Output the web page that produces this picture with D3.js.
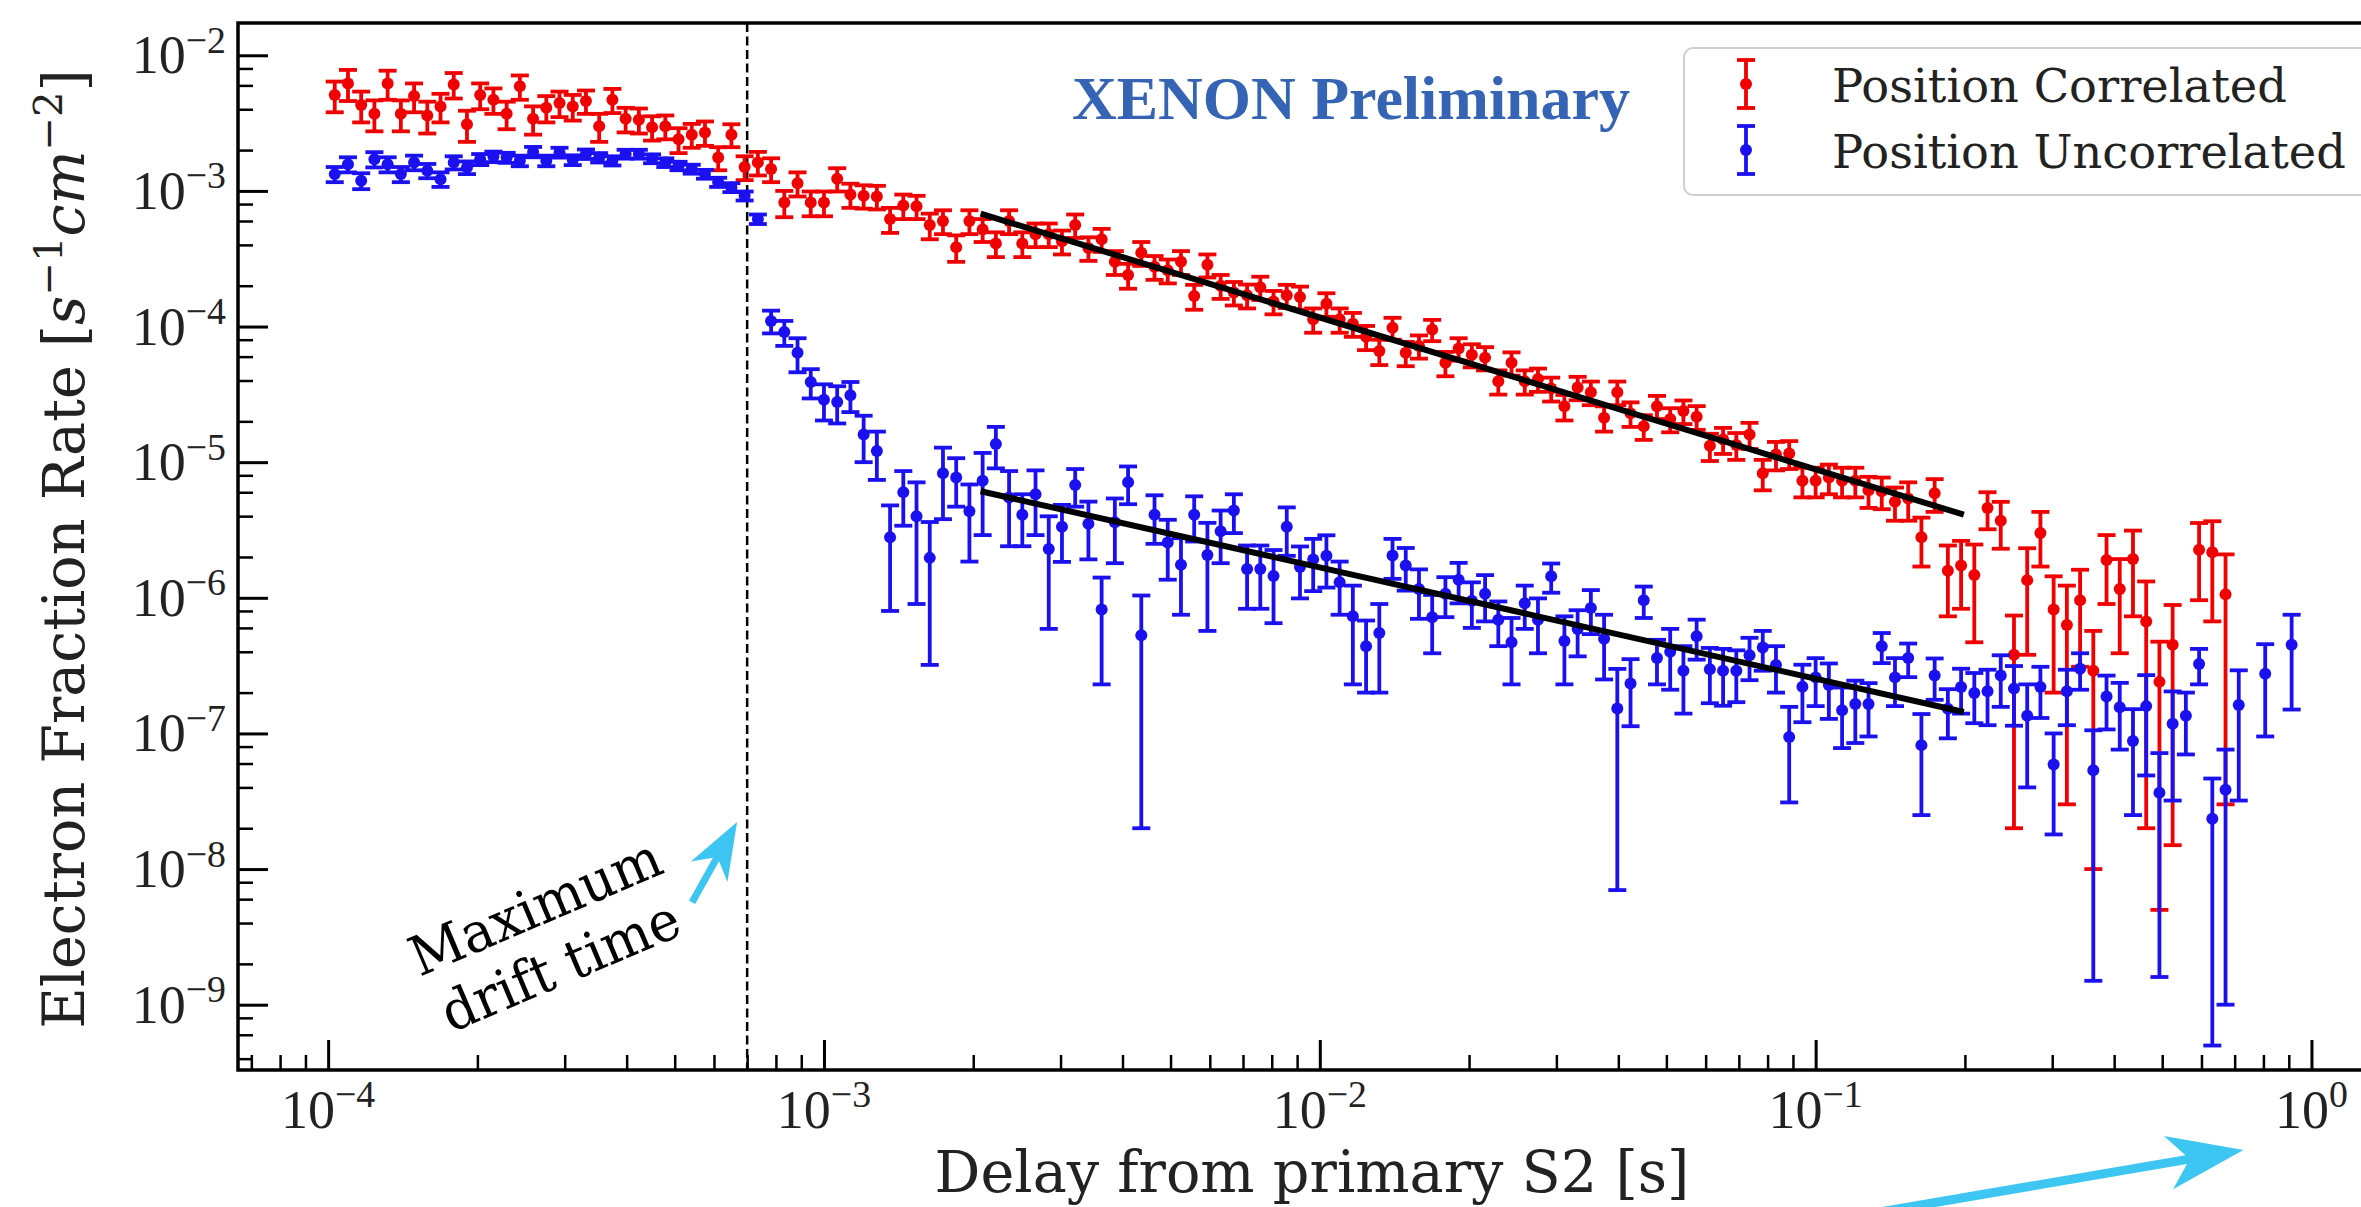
<!DOCTYPE html>
<html>
<head>
<meta charset="utf-8">
<script src="https://cdn.jsdelivr.net/npm/d3@7"></script>
<style>
html, body { margin: 0; padding: 0; background: #fff; }
svg { display: block; }
</style>
</head>
<body>
<div id="chart"></div>
<script>
'use strict';

// delay bins: log spaced from 1e-4 s to 1 s, points sit at bin centres
const BIN_LOG_START = -4;
const BIN_LOG_END = 0;
const BIN_COUNT = 150;

// Position Correlated (red), rate per bin and its 1-sigma error
const corrRate = [
  5.1e-3, 6.2e-3, 4.3e-3, 3.7e-3, 6.2e-3, 3.7e-3, 5.0e-3, 3.6e-3, 4.2e-3, 6.1e-3,
  3.1e-3, 5.1e-3, 4.7e-3, 3.7e-3, 5.9e-3, 3.4e-3, 4.1e-3, 4.45e-3, 4.2e-3, 4.6e-3,
  3.0e-3, 4.7e-3, 3.4e-3, 3.35e-3, 2.95e-3, 3.0e-3, 2.4e-3, 2.6e-3, 2.7e-3, 1.76e-3,
  2.6e-3, 1.5e-3, 1.62e-3, 1.45e-3, 8.2e-4, 1.14e-3, 8.2e-4, 8.2e-4, 1.23e-3, 9.4e-4,
  9.2e-4, 9.1e-4, 6.2e-4, 7.8e-4, 7.7e-4, 5.6e-4, 6.0e-4, 3.85e-4, 6.0e-4, 5.2e-4,
  4.1e-4, 6.0e-4, 4.1e-4, 4.8e-4, 4.8e-4, 4.25e-4, 5.6e-4, 3.8e-4, 4.4e-4, 3.0e-4,
  2.4e-4, 3.5e-4, 2.76e-4, 2.6e-4, 3.0e-4, 1.68e-4, 2.85e-4, 2.0e-4, 1.78e-4, 1.7e-4,
  1.95e-4, 1.53e-4, 1.7e-4, 1.65e-4, 1.13e-4, 1.47e-4, 1.13e-4, 1.05e-4, 8.4e-5, 6.6e-5,
  9.8e-5, 6.4e-5, 7.2e-5, 9.5e-5, 5.4e-5, 6.9e-5, 6.2e-5, 5.9e-5, 3.95e-5, 5.4e-5,
  3.95e-5, 4.1e-5, 3.5e-5, 2.58e-5, 3.56e-5, 3.28e-5, 2.13e-5, 3.28e-5, 2.29e-5, 1.84e-5,
  2.58e-5, 2.08e-5, 2.38e-5, 2.16e-5, 1.32e-5, 1.47e-5, 1.34e-5, 1.6e-5, 8.3e-6, 1.14e-5,
  1.16e-5, 7.3e-6, 7.3e-6, 7.7e-6, 7.3e-6, 7.3e-6, 6.2e-6, 6.1e-6, 5.1e-6, 5.4e-6,
  2.8e-6, 5.9e-6, 1.58e-6, 1.73e-6, 1.47e-6, 4.6e-6, 3.7e-6, 3.8e-7, 1.35e-6, 3.0e-6,
  8.2e-7, 6.3e-7, 9.6e-7, 2.9e-7, 1.9e-6, 1.16e-6, 1.93e-6, 6.7e-7, 2.4e-7, 4.5e-7,
  null, 2.26e-6, 2.17e-6, 1.06e-6, null, null, null, null, null, null
];
const corrErr = [
  1.3e-3, 1.6e-3, 1.1e-3, 9.5e-4, 1.5e-3, 9.5e-4, 1.2e-3, 9.5e-4, 1.0e-3, 1.3e-3,
  8.0e-4, 1.1e-3, 1.0e-3, 8.5e-4, 1.2e-3, 8.0e-4, 9.0e-4, 9.5e-4, 9.0e-4, 9.0e-4,
  7.0e-4, 9.5e-4, 7.0e-4, 7.0e-4, 6.0e-4, 6.0e-4, 5.0e-4, 5.2e-4, 5.5e-4, 3.4e-4,
  5.0e-4, 3.0e-4, 3.2e-4, 2.9e-4, 1.8e-4, 2.3e-4, 1.7e-4, 1.7e-4, 2.4e-4, 1.9e-4,
  1.8e-4, 1.8e-4, 1.3e-4, 1.6e-4, 1.5e-4, 1.2e-4, 1.2e-4, 8.5e-5, 1.2e-4, 1.0e-4,
  8.5e-5, 1.2e-4, 8.5e-5, 9.5e-5, 9.5e-5, 8.5e-5, 1.1e-4, 7.5e-5, 8.5e-5, 6.0e-5,
  5.0e-5, 7.0e-5, 5.5e-5, 5.2e-5, 6.0e-5, 3.5e-5, 5.5e-5, 4.0e-5, 3.5e-5, 3.4e-5,
  3.8e-5, 3.0e-5, 3.3e-5, 3.2e-5, 2.3e-5, 2.9e-5, 2.3e-5, 2.1e-5, 1.7e-5, 1.4e-5,
  1.8e-5, 1.3e-5, 1.4e-5, 1.7e-5, 1.1e-5, 1.3e-5, 1.2e-5, 1.15e-5, 8.0e-6, 1.05e-5,
  8.0e-6, 8.0e-6, 7.0e-6, 5.5e-6, 7.0e-6, 6.5e-6, 4.5e-6, 6.5e-6, 4.7e-6, 3.8e-6,
  5.0e-6, 4.2e-6, 4.7e-6, 4.3e-6, 3.0e-6, 3.2e-6, 3.0e-6, 3.5e-6, 2.1e-6, 2.7e-6,
  2.7e-6, 1.8e-6, 1.8e-6, 1.9e-6, 1.8e-6, 1.8e-6, 1.6e-6, 1.6e-6, 1.4e-6, 1.7e-6,
  1.1e-6, 1.6e-6, 8.5e-7, 9.0e-7, 1.0e-6, 1.4e-6, 1.4e-6, 3.6e-7, 9.7e-7, 1.3e-6,
  6.2e-7, 6.0e-7, 6.5e-7, 2.8e-7, 1.0e-6, 7.7e-7, 1.2e-6, 6.5e-7, 2.35e-7, 4.35e-7,
  null, 1.3e-6, 1.5e-6, 1.03e-6, null, null, null, null, null, null
];

// Position Uncorrelated (blue)
const uncorrRate = [
  1.33e-3, 1.57e-3, 1.19e-3, 1.71e-3, 1.57e-3, 1.33e-3, 1.62e-3, 1.41e-3, 1.22e-3, 1.62e-3,
  1.49e-3, 1.71e-3, 1.79e-3, 1.76e-3, 1.67e-3, 1.94e-3, 1.67e-3, 1.92e-3, 1.69e-3, 1.87e-3,
  1.76e-3, 1.67e-3, 1.87e-3, 1.87e-3, 1.73e-3, 1.62e-3, 1.53e-3, 1.45e-3, 1.33e-3, 1.16e-3,
  1.06e-3, 9.2e-4, 6.2e-4, 1.1e-4, 9.1e-5, 6.4e-5, 3.9e-5, 2.89e-5, 2.78e-5, 3.12e-5,
  1.6e-5, 1.21e-5, 2.8e-6, 6.0e-6, 4.0e-6, 1.97e-6, 8.3e-6, 7.7e-6, 4.35e-6, 7.3e-6,
  1.36e-5, 5.5e-6, 4.1e-6, 5.8e-6, 2.29e-6, 3.34e-6, 6.8e-6, 3.52e-6, 8.2e-7, 3.6e-6,
  7.1e-6, 5.3e-7, 4.1e-6, 2.56e-6, 1.75e-6, 4.1e-6, 2.07e-6, 3.1e-6, 4.4e-6, 1.63e-6,
  1.63e-6, 1.45e-6, 3.34e-6, 1.69e-6, 1.92e-6, 2.04e-6, 1.3e-6, 7.3e-7, 4.4e-7, 5.5e-7,
  2.05e-6, 1.73e-6, 1.16e-6, 7.2e-7, 1.07e-6, 1.36e-6, 9.5e-7, 1.07e-6, 6.9e-7, 4.7e-7,
  9.1e-7, 6.9e-7, 1.44e-6, 4.8e-7, 5.9e-7, 8.4e-7, 5.0e-7, 1.53e-7, 2.33e-7, 9.6e-7,
  3.6e-7, 4.0e-7, 2.9e-7, 5.2e-7, 2.97e-7, 2.9e-7, 2.9e-7, 3.77e-7, 4.3e-7, 3.2e-7,
  9.4e-8, 2.21e-7, 2.59e-7, 2.28e-7, 1.48e-7, 1.65e-7, 1.65e-7, 4.4e-7, 2.59e-7, 3.6e-7,
  8.2e-8, 2.67e-7, 1.52e-7, 2.2e-7, 1.99e-7, 2.05e-7, 2.67e-7, 2.14e-7, 1.35e-7, 2.2e-7,
  5.9e-8, 2.05e-7, 3.0e-7, 5.35e-8, 1.87e-7, 1.56e-7, 8.8e-8, 1.59e-7, 3.66e-8, 1.18e-7,
  1.35e-7, 3.25e-7, 2.35e-8, 3.85e-8, 1.62e-7, null, 2.75e-7, null, 4.5e-7, null
];
const uncorrErr = [
  1.7e-4, 2.0e-4, 1.6e-4, 2.2e-4, 2.0e-4, 1.7e-4, 2.0e-4, 1.7e-4, 1.5e-4, 1.8e-4,
  1.6e-4, 1.6e-4, 1.6e-4, 1.5e-4, 1.5e-4, 1.7e-4, 1.5e-4, 1.6e-4, 1.4e-4, 1.5e-4,
  1.4e-4, 1.3e-4, 1.4e-4, 1.4e-4, 1.3e-4, 1.2e-4, 1.1e-4, 1.1e-4, 1.0e-4, 9.0e-5,
  8.0e-5, 7.0e-5, 5.0e-5, 2.1e-5, 1.9e-5, 1.8e-5, 9.5e-6, 8.6e-6, 8.5e-6, 7.8e-6,
  6.0e-6, 4.7e-6, 2.0e-6, 2.6e-6, 3.1e-6, 1.65e-6, 4.5e-6, 3.0e-6, 2.5e-6, 4.4e-6,
  4.6e-6, 3.1e-6, 1.7e-6, 2.9e-6, 1.7e-6, 1.5e-6, 2.1e-6, 1.6e-6, 5.9e-7, 1.8e-6,
  2.2e-6, 5.1e-7, 1.6e-6, 1.2e-6, 1.0e-6, 1.5e-6, 1.5e-6, 1.3e-6, 1.4e-6, 8.0e-7,
  8.0e-7, 8.0e-7, 1.3e-6, 7.0e-7, 8.0e-7, 8.5e-7, 5.5e-7, 5.0e-7, 2.4e-7, 3.5e-7,
  6.7e-7, 6.0e-7, 4.6e-7, 3.3e-7, 3.5e-7, 4.5e-7, 3.5e-7, 4.0e-7, 2.5e-7, 2.4e-7,
  3.2e-7, 3.0e-7, 3.5e-7, 2.5e-7, 2.2e-7, 3.0e-7, 2.5e-7, 1.46e-7, 1.2e-7, 2.5e-7,
  1.3e-7, 1.9e-7, 1.5e-7, 1.7e-7, 1.3e-7, 1.3e-7, 1.2e-7, 1.3e-7, 1.4e-7, 1.2e-7,
  6.3e-8, 1.0e-7, 1.0e-7, 1.0e-7, 7.0e-8, 8.0e-8, 7.0e-8, 1.1e-7, 1.0e-7, 1.0e-7,
  5.7e-8, 9.0e-8, 6.0e-8, 8.0e-8, 8.0e-8, 9.0e-8, 1.1e-7, 1.0e-7, 9.5e-8, 9.0e-8,
  4.1e-8, 9.0e-8, 9.0e-8, 5.2e-8, 8.0e-8, 8.0e-8, 6.3e-8, 1.1e-7, 3.5e-8, 8.6e-8,
  6.5e-8, 9.5e-8, 2.3e-8, 3.75e-8, 1.3e-7, null, 1.8e-7, null, 3.0e-7, null
];

// power-law fits, drawn between their two end points [delay, rate]
const corrFit = [[2.07e-3, 6.8e-4], [0.199, 4.1e-6]];
const uncorrFit = [[2.07e-3, 6.1e-6], [0.199, 1.44e-7]];

const MAX_DRIFT = 7.0e-4;

// annotation arrows [tail, tip] in data coordinates
const driftArrow = [[5.42e-4, 5.7e-9], [6.68e-4, 2.22e-8]];
const rangeArrow = [[0.123, 2.8e-11], [0.729, 8.5e-11]];
const driftTextAt = [2.71e-4, 3.9e-9];

const X_TICK_EXPS = [-4, -3, -2, -1, 0];
const Y_TICK_EXPS = [-9, -8, -7, -6, -5, -4, -3, -2];
const X_MINOR_SUBS = [2, 3, 4, 5, 6, 7, 8, 9];
const Y_MINOR_SUBS = [2, 4, 6, 8];

const SERIES = [
  { label: 'Position Correlated', rates: corrRate, errs: corrErr, color: '#f00000' },
  { label: 'Position Uncorrelated', rates: uncorrRate, errs: uncorrErr, color: '#1a10f0' }
];

const W = 2361, H = 1207;
const PLOT = { left: 238, top: 23, right: 2390, bottom: 1070 };
const X_LIM = [6.58e-5, 1.44];
const Y_LIM = [3.3e-10, 1.73e-2];

const SERIF = "'DejaVu Serif', serif";
const TICK_FONT = "'Liberation Serif', serif";

const x = d3.scaleLog().domain(X_LIM).range([PLOT.left, PLOT.right]);
const y = d3.scaleLog().domain(Y_LIM).range([PLOT.bottom, PLOT.top]);

const binCenters = d3.range(BIN_COUNT)
  .map(i => Math.pow(10, BIN_LOG_START + (i + 0.5) * (BIN_LOG_END - BIN_LOG_START) / BIN_COUNT));

const svg = d3.select('#chart')
  .append('svg')
  .attr('width', W)
  .attr('height', H);

svg.append('rect').attr('width', W).attr('height', H).attr('fill', '#fff');

svg.append('clipPath')
  .attr('id', 'plot-clip')
  .append('rect')
  .attr('x', PLOT.left)
  .attr('y', PLOT.top)
  .attr('width', PLOT.right - PLOT.left)
  .attr('height', PLOT.bottom - PLOT.top);

const plot = svg.append('g').attr('clip-path', 'url(#plot-clip)');

// maximum drift time marker
plot.append('line')
  .attr('x1', x(MAX_DRIFT))
  .attr('x2', x(MAX_DRIFT))
  .attr('y1', PLOT.top)
  .attr('y2', PLOT.bottom)
  .attr('stroke', '#000')
  .attr('stroke-width', 2.5)
  .attr('stroke-dasharray', '9,4.5');

const CAP = 9;
const BAR_W = 3.8;
const drawErrorbars = (layer, s) => {
  const pts = s.rates
    .map((v, i) => ({ t: binCenters[i], v: v, e: s.errs[i] }))
    .filter(d => d.v != null);
  const lo = d => (d.v - d.e > 0 ? d.v - d.e : Y_LIM[0] / 10);
  const g = layer.append('g').attr('class', 'series');

  g.selectAll('line.bar')
    .data(pts)
    .join('line')
    .attr('class', 'bar')
    .attr('x1', d => x(d.t))
    .attr('x2', d => x(d.t))
    .attr('y1', d => y(d.v + d.e))
    .attr('y2', d => y(lo(d)))
    .attr('stroke', s.color)
    .attr('stroke-width', BAR_W);

  g.selectAll('line.cap-hi')
    .data(pts)
    .join('line')
    .attr('class', 'cap-hi')
    .attr('x1', d => x(d.t) - CAP)
    .attr('x2', d => x(d.t) + CAP)
    .attr('y1', d => y(d.v + d.e))
    .attr('y2', d => y(d.v + d.e))
    .attr('stroke', s.color)
    .attr('stroke-width', BAR_W);

  g.selectAll('line.cap-lo')
    .data(pts.filter(d => d.v - d.e > 0))
    .join('line')
    .attr('class', 'cap-lo')
    .attr('x1', d => x(d.t) - CAP)
    .attr('x2', d => x(d.t) + CAP)
    .attr('y1', d => y(d.v - d.e))
    .attr('y2', d => y(d.v - d.e))
    .attr('stroke', s.color)
    .attr('stroke-width', BAR_W);

  g.selectAll('circle')
    .data(pts)
    .join('circle')
    .attr('cx', d => x(d.t))
    .attr('cy', d => y(d.v))
    .attr('r', 6)
    .attr('fill', s.color);
};

SERIES.forEach(s => drawErrorbars(plot, s));

const fitLine = d3.line().x(d => x(d[0])).y(d => y(d[1]));
[corrFit, uncorrFit].forEach(f => {
  plot.append('path')
    .attr('d', fitLine(f))
    .attr('fill', 'none')
    .attr('stroke', '#000')
    .attr('stroke-width', 6);
});

// ticks (pointing inward)
const xMajor = X_TICK_EXPS.map(e => Math.pow(10, e));
const yMajor = Y_TICK_EXPS.map(e => Math.pow(10, e));
const xMinor = [], yMinor = [];
d3.range(-5, 1).forEach(k => X_MINOR_SUBS.forEach(m => {
  const v = m * Math.pow(10, k);
  if (v > X_LIM[0] && v < X_LIM[1]) xMinor.push(v);
}));
d3.range(-10, -1).forEach(k => Y_MINOR_SUBS.forEach(m => {
  const v = m * Math.pow(10, k);
  if (v > Y_LIM[0] && v < Y_LIM[1]) yMinor.push(v);
}));

const tickAxis = (axis, vals, size, width, transform) => {
  svg.append('g')
    .attr('transform', transform)
    .call(axis.tickValues(vals).tickSize(-size).tickFormat(''))
    .call(g => g.select('.domain').remove())
    .call(g => g.selectAll('.tick line').attr('stroke', '#000').attr('stroke-width', width));
};
tickAxis(d3.axisBottom(x), xMajor, 30, 3, `translate(0,${PLOT.bottom})`);
tickAxis(d3.axisBottom(x), xMinor, 15, 2.5, `translate(0,${PLOT.bottom})`);
tickAxis(d3.axisLeft(y), yMajor, 30, 3, `translate(${PLOT.left},0)`);
tickAxis(d3.axisLeft(y), yMinor, 15, 2.5, `translate(${PLOT.left},0)`);

// spines
svg.append('rect')
  .attr('x', PLOT.left)
  .attr('y', PLOT.top)
  .attr('width', PLOT.right - PLOT.left)
  .attr('height', PLOT.bottom - PLOT.top)
  .attr('fill', 'none')
  .attr('stroke', '#000')
  .attr('stroke-width', 3.5);

// tick labels 10^n
const TICK_SIZE = 54;
const powLabel = (t, exp) => {
  t.append('tspan').text('10');
  t.append('tspan')
    .attr('dy', -0.38 * TICK_SIZE)
    .style('font-size', (0.7 * TICK_SIZE) + 'px')
    .text(exp < 0 ? '\u2212' + Math.abs(exp) : String(exp));
};

X_TICK_EXPS.forEach(e => {
  const t = svg.append('text')
    .attr('x', x(Math.pow(10, e)))
    .attr('y', 1128)
    .attr('text-anchor', 'middle')
    .style('font-family', TICK_FONT)
    .style('font-size', TICK_SIZE + 'px')
    .attr('fill', '#222');
  powLabel(t, e);
});

Y_TICK_EXPS.forEach(e => {
  const t = svg.append('text')
    .attr('x', 226)
    .attr('y', y(Math.pow(10, e)) + 18)
    .attr('text-anchor', 'end')
    .style('font-family', TICK_FONT)
    .style('font-size', TICK_SIZE + 'px')
    .attr('fill', '#222');
  powLabel(t, e);
});

// stretch a text to a measured width
const place = (t, tx, ty, angle, width) => {
  const w = t.node().getBBox().width;
  const s = width ? width / w : 1;
  t.attr('transform', `translate(${tx},${ty}) rotate(${angle}) scale(${s},1)`);
};

// axis labels
const ylab = svg.append('text')
  .attr('text-anchor', 'middle')
  .style('font-family', SERIF)
  .style('font-size', '57px')
  .attr('fill', '#222');
ylab.append('tspan').text('Electron Fraction Rate [');
ylab.append('tspan').style('font-style', 'italic').text('s');
ylab.append('tspan').attr('dy', -22).style('font-size', '40px').text('\u22121');
ylab.append('tspan').attr('dy', 22).style('font-style', 'italic').text('cm');
ylab.append('tspan').attr('dy', -22).style('font-size', '40px').text('\u22122');
ylab.append('tspan').attr('dy', 22).text(']');
place(ylab, 84, 549, -90, 960);

const xlab = svg.append('text')
  .attr('text-anchor', 'middle')
  .style('font-family', SERIF)
  .style('font-size', '58px')
  .attr('fill', '#222')
  .text('Delay from primary S2 [s]');
place(xlab, 1312, 1192, 0, 755);

// watermark
const xenon = svg.append('text')
  .style('font-family', TICK_FONT)
  .style('font-weight', 'bold')
  .style('font-size', '62px')
  .attr('fill', '#3564b4')
  .text('XENON Preliminary');
place(xenon, 1072, 119, 0, 558);

// legend
const legend = svg.append('g').attr('id', 'legend');
legend.append('rect')
  .attr('x', 1684)
  .attr('y', 48)
  .attr('width', 800)
  .attr('height', 147)
  .attr('rx', 9)
  .attr('fill', '#fff')
  .attr('fill-opacity', 0.85)
  .attr('stroke', '#cfcfcf')
  .attr('stroke-width', 2);

const LEGEND_ROWS = [84, 150];
const LEGEND_WIDTHS = [455, 514];
SERIES.forEach((s, i) => {
  const cy = LEGEND_ROWS[i], hx = 1746;
  const h = legend.append('g');
  h.append('line').attr('x1', hx).attr('x2', hx).attr('y1', cy - 24).attr('y2', cy + 24)
    .attr('stroke', s.color).attr('stroke-width', BAR_W);
  [cy - 24, cy + 24].forEach(cyy => {
    h.append('line').attr('x1', hx - CAP).attr('x2', hx + CAP).attr('y1', cyy).attr('y2', cyy)
      .attr('stroke', s.color).attr('stroke-width', BAR_W);
  });
  h.append('circle').attr('cx', hx).attr('cy', cy).attr('r', 6).attr('fill', s.color);
  const t = legend.append('text')
    .style('font-family', SERIF)
    .style('font-size', '47px')
    .attr('fill', '#222')
    .text(s.label);
  place(t, 1832, cy + 18, 0, LEGEND_WIDTHS[i]);
});

// annotation arrows
const arrowPoly = (a, shaftW, headL, headW, notch) => {
  const x0 = x(a[0][0]), y0 = y(a[0][1]), x1 = x(a[1][0]), y1 = y(a[1][1]);
  const L = Math.hypot(x1 - x0, y1 - y0);
  const ux = (x1 - x0) / L, uy = (y1 - y0) / L, nx = -uy, ny = ux;
  const nk = [x1 - ux * (headL - notch), y1 - uy * (headL - notch)];
  const bk = [x1 - ux * headL, y1 - uy * headL];
  const pts = [
    [x0 + nx * shaftW / 2, y0 + ny * shaftW / 2],
    [nk[0] + nx * shaftW / 2, nk[1] + ny * shaftW / 2],
    [bk[0] + nx * headW, bk[1] + ny * headW],
    [x1, y1],
    [bk[0] - nx * headW, bk[1] - ny * headW],
    [nk[0] - nx * shaftW / 2, nk[1] - ny * shaftW / 2],
    [x0 - nx * shaftW / 2, y0 - ny * shaftW / 2]
  ];
  return 'M' + pts.map(p => p.join(',')).join('L') + 'Z';
};
svg.append('path').attr('d', arrowPoly(driftArrow, 7, 57, 21, 14)).attr('fill', '#3ec6f2');
svg.append('path').attr('d', arrowPoly(rangeArrow, 9, 76, 27, 18)).attr('fill', '#3ec6f2');

// "Maximum drift time" note
const note = svg.append('g')
  .attr('transform', `translate(${x(driftTextAt[0])},${y(driftTextAt[1])}) rotate(-23)`);
[['Maximum', 0, 268], ['drift time', 64, 254]].forEach(([txt, dy, w]) => {
  const t = note.append('text')
    .attr('text-anchor', 'middle')
    .style('font-family', SERIF)
    .style('font-size', '55px')
    .attr('fill', '#000')
    .text(txt);
  place(t, 0, dy, 0, w);
});
</script>
</body>
</html>
